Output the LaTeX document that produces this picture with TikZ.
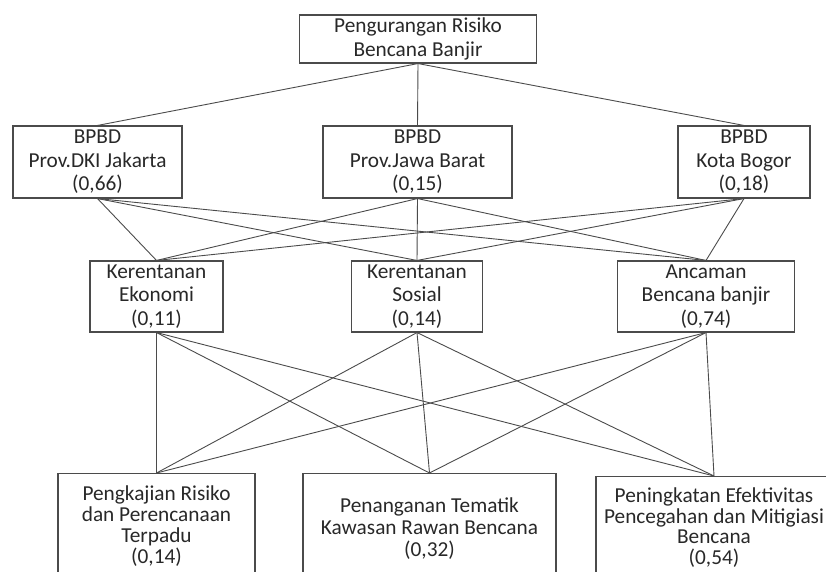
\documentclass[tikz,border=0pt]{standalone}
\usepackage{fontspec}
\setmainfont{Carlito}
\definecolor{garis}{RGB}{75,75,75}
\definecolor{teks}{RGB}{40,40,40}

\begin{document}
\begin{tikzpicture}[x=1pt, y=-1pt,
    kotak/.style={draw=garis, line width=1.1pt, align=center, text=teks, inner sep=0pt,
      font=\fontsize{21.3}{23.5}\selectfont},
    hubung/.style={draw=garis, line width=0.9pt}]
    \clip (0,0) rectangle (826,572);

    \node[kotak, minimum width=237pt, minimum height=48pt] (risiko) at (418,39) {Pengurangan Risiko\\Bencana Banjir};

    \node[kotak, minimum width=169pt, minimum height=72pt] (dki) at (97.5,162) {BPBD\\Prov.DKI Jakarta\\(0,66)};
    \node[kotak, minimum width=189pt, minimum height=72pt] (jabar) at (417.5,162) {BPBD\\Prov.Jawa Barat\\(0,15)};
    \node[kotak, minimum width=132pt, minimum height=72pt] (bogor) at (744,162) {BPBD\\Kota Bogor\\(0,18)};

    \node[kotak, minimum width=133pt, minimum height=71pt] (ekonomi) at (156.5,296.5) {Kerentanan\\Ekonomi\\(0,11)};
    \node[kotak, minimum width=131pt, minimum height=71pt] (sosial) at (417,296.5) {Kerentanan\\Sosial\\(0,14)};
    \node[kotak, minimum width=177pt, minimum height=71pt] (ancaman) at (706,296.5) {Ancaman\\Bencana banjir\\(0,74)};

    \node[kotak, font=\fontsize{21.3}{21}\selectfont, minimum width=197pt, minimum height=106pt, anchor=north] (pengkajian) at (156.5,473) {Pengkajian Risiko\\dan Perencanaan\\Terpadu\\(0,14)};
    \node[kotak, font=\fontsize{21.3}{22}\selectfont, minimum width=253pt, minimum height=110pt, anchor=north] (penanganan) at (429.5,473) {Penanganan Tematik\\Kawasan Rawan Bencana\\(0,32)};
    \node[kotak, font=\fontsize{21.3}{20.5}\selectfont, minimum width=236pt, minimum height=102pt, anchor=north] (peningkatan) at (714,476) {Peningkatan Efektivitas\\Pencegahan dan Mitigiasi\\Bencana\\(0,54)};

    % garis penghubung
    \draw[hubung] (risiko.south) -- (dki.north);
    \draw[hubung] (risiko.south) -- (jabar.north);
    \draw[hubung] (risiko.south) -- (bogor.north);

    \draw[hubung] (dki.south) -- (ekonomi.north);
    \draw[hubung] (dki.south) -- (sosial.north);
    \draw[hubung] (dki.south) -- (ancaman.north);
    \draw[hubung] (jabar.south) -- (ekonomi.north);
    \draw[hubung] (jabar.south) -- (sosial.north);
    \draw[hubung] (jabar.south) -- (ancaman.north);
    \draw[hubung] (bogor.south) -- (ekonomi.north);
    \draw[hubung] (bogor.south) -- (sosial.north);
    \draw[hubung] (bogor.south) -- (ancaman.north);

    \draw[hubung] (ekonomi.south) -- (pengkajian.north);
    \draw[hubung] (ekonomi.south) -- (penanganan.north);
    \draw[hubung] (ekonomi.south) -- (peningkatan.north);
    \draw[hubung] (sosial.south) -- (pengkajian.north);
    \draw[hubung] (sosial.south) -- (penanganan.north);
    \draw[hubung] (sosial.south) -- (peningkatan.north);
    \draw[hubung] (ancaman.south) -- (pengkajian.north);
    \draw[hubung] (ancaman.south) -- (penanganan.north);
    \draw[hubung] (ancaman.south) -- (peningkatan.north);
\end{tikzpicture}
\end{document}
